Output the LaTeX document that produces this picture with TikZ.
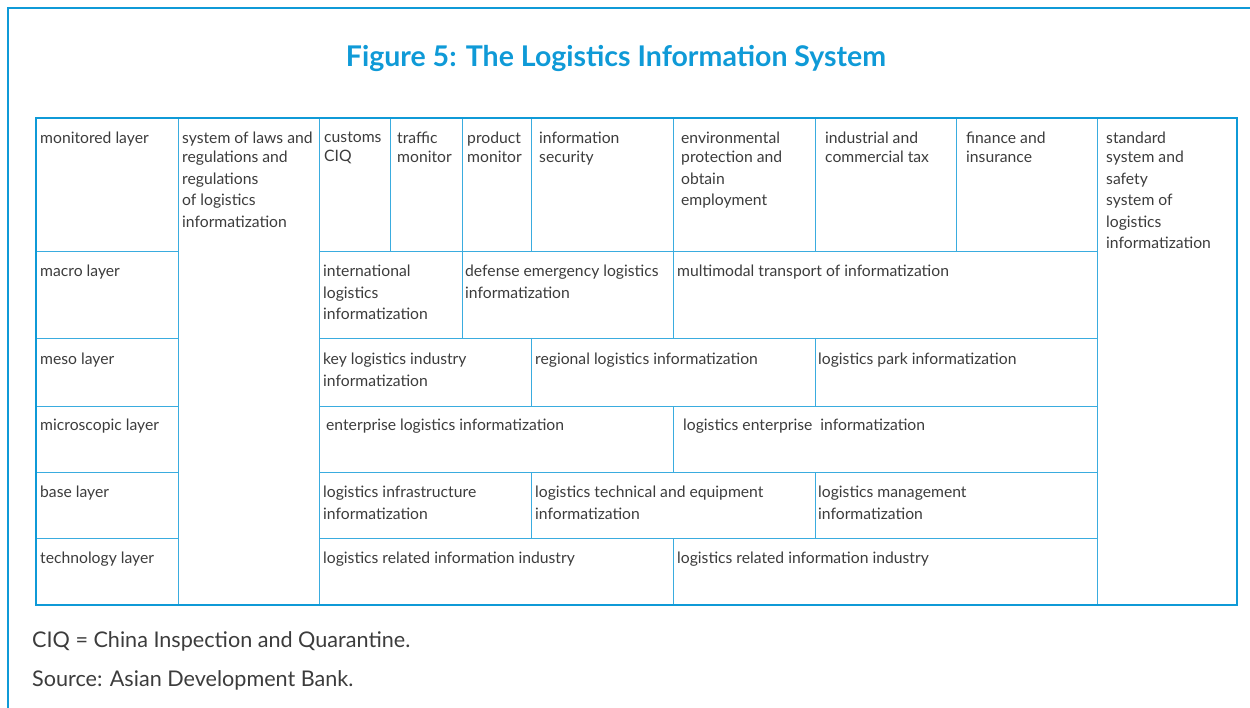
\documentclass[tikz,border=0pt]{standalone}
\usepackage{fontspec}
\setmainfont{Lato}
\definecolor{adbblue}{HTML}{0F9AD7}
\definecolor{cellline}{HTML}{3AACDF}
\definecolor{ink}{HTML}{3C3C3C}

\begin{document}
\begin{tikzpicture}[x=1pt, y=-1pt,
  frame/.style={draw=adbblue, line width=2pt},
  grid/.style={draw=cellline, line width=0.9pt},
  lbl/.style={anchor=north west, inner sep=0pt, align=left, text=ink,
    font=\fontsize{15.7}{21.5}\selectfont},
  note/.style={anchor=west, inner sep=0pt, text=ink,
    font=\fontsize{21.6}{25}\selectfont}]

\useasboundingbox (0,0) rectangle (1250,708);

% ---------- Frame and title ----------
\draw[frame] (8,708) -- (8,8) -- (1250,8);
\node[text=adbblue, font=\bfseries\fontsize{28.5}{32}\selectfont] (title) at (616,58)
  {Figure 5: The Logistics Information System};

% ---------- Grid lines ----------
% full-height columns
\draw[grid] (178,118) -- (178,605);
\draw[grid] (319,118) -- (319,605);
\draw[grid] (1097,118) -- (1097,605);

% row borders
\draw[grid] (36,251) -- (178,251);  \draw[grid] (319,251) -- (1097,251);
\draw[grid] (36,338) -- (178,338);  \draw[grid] (319,338) -- (1097,338);
\draw[grid] (36,406) -- (178,406);  \draw[grid] (319,406) -- (1097,406);
\draw[grid] (36,472) -- (178,472);  \draw[grid] (319,472) -- (1097,472);
\draw[grid] (36,538) -- (178,538);  \draw[grid] (319,538) -- (1097,538);

% cell borders inside the rows
\foreach \x in {390,462,531,673,815,956}
  \draw[grid] (\x,118) -- (\x,251);
\draw[grid] (462,251) -- (462,338);
\draw[grid] (673,251) -- (673,338);
\draw[grid] (531,338) -- (531,406);
\draw[grid] (815,338) -- (815,406);
\draw[grid] (673,406) -- (673,472);
\draw[grid] (531,472) -- (531,538);
\draw[grid] (815,472) -- (815,538);
\draw[grid] (673,538) -- (673,605);

% outer border
\draw[frame] (36,118) rectangle (1237,605);

% ---------- Layer names ----------
\node[lbl] (monitored) at (40,132) {monitored layer};
\node[lbl] (macro) at (40,265) {macro layer};
\node[lbl] (meso) at (40,353) {meso layer};
\node[lbl] (micro) at (40,419) {microscopic layer};
\node[lbl] (base) at (40,486) {base layer};
\node[lbl] (tech) at (40,552) {technology layer};

% ---------- Side columns ----------
\node[lbl] (laws) at (182,132)
  {system of laws and\\[-2.5pt] regulations and\\ regulations\\ of logistics\\ informatization};
\node[lbl] (standard) at (1106,132)
  {standard\\[-2.5pt] system and\\ safety\\ system of\\ logistics\\ informatization};

% ---------- Monitored layer ----------
\node[lbl] (customs) at (324,132) {customs\\[-2.5pt] CIQ};
\node[lbl] (traffic) at (397,132) {traffic\\[-2.5pt] monitor};
\node[lbl] (product) at (467,132) {product\\[-2.5pt] monitor};
\node[lbl] (security) at (539,132) {information\\[-2.5pt] security};
\node[lbl] (environ) at (681,132) {environmental\\[-2.5pt] protection and\\ obtain\\ employment};
\node[lbl] (tax) at (825,132) {industrial and\\[-2.5pt] commercial tax};
\node[lbl] (finance) at (966,132) {finance and\\[-2.5pt] insurance};

% ---------- Macro layer ----------
\node[lbl] (intl) at (323,265) {international\\ logistics\\ informatization};
\node[lbl] (defense) at (465,265) {defense emergency logistics\\ informatization};
\node[lbl] (multimodal) at (677,265) {multimodal transport of informatization};

% ---------- Meso layer ----------
\node[lbl] (industry) at (323,353) {key logistics industry\\ informatization};
\node[lbl] (regional) at (535,353) {regional logistics informatization};
\node[lbl] (park) at (818,353) {logistics park informatization};

% ---------- Microscopic layer ----------
\node[lbl] (entlog) at (326,419) {enterprise logistics informatization};
\node[lbl] (logent) at (683,419) {logistics enterprise\ \ informatization};

% ---------- Base layer ----------
\node[lbl] (infra) at (323,486) {logistics infrastructure\\ informatization};
\node[lbl] (equip) at (535,486) {logistics technical and equipment\\ informatization};
\node[lbl] (mgmt) at (818,486) {logistics management\\ informatization};

% ---------- Technology layer ----------
\node[lbl] (relA) at (323,552) {logistics related information industry};
\node[lbl] (relB) at (677,552) {logistics related information industry};

% ---------- Notes ----------
\node[note] (abbr) at (32,641) {CIQ = China Inspection and Quarantine.};
\node[note] (source) at (32,680) {Source: Asian Development Bank.};

\end{tikzpicture}
\end{document}
